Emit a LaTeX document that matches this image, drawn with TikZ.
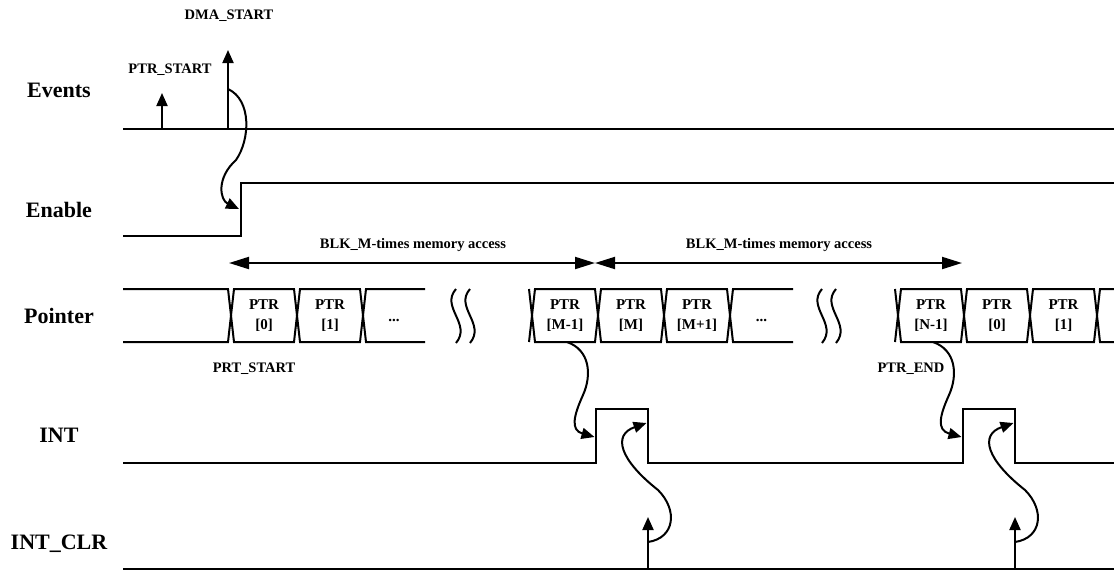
\documentclass[tikz,border=0pt]{standalone}
\usepackage{fontspec}
\setmainfont{Liberation Serif}
\usetikzlibrary{arrows.meta}
\tikzstyle{wire}=[line width=2pt]
\tikzstyle{signame}=[font=\fontsize{22}{26}\selectfont\bfseries,text depth=0pt]
\tikzstyle{evtag}=[font=\fontsize{14.5}{17}\selectfont\bfseries,text depth=0pt]
\tikzstyle{ptrtext}=[align=center,font=\fontsize{15}{20}\selectfont\bfseries,inner sep=0pt]
\tikzstyle{evpath}=[wire,-{Triangle[length=13pt,width=11pt]}]
\tikzstyle{spanpath}=[wire,{Triangle[length=20pt,width=12pt]}-{Triangle[length=20pt,width=12pt]}]
% bus cell between two transitions
\newcommand{\ptrcell}[4]{%
  \draw[wire] (#1,315.5) -- (#1+3,289) -- (#2-3,289) -- (#2,315.5) -- (#2-3,342) -- (#1+3,342) -- cycle;
  \node[ptrtext] (#3) at ({(#1+#2)/2},316) {#4};}
% bus cell left open on the right
\newcommand{\ptropen}[3]{%
  \draw[wire] (#2,289) -- (#1+3,289) -- (#1,315.5) -- (#1+3,342) -- (#2,342);
  \node[ptrtext] (#3) at ({(#1+#2)/2},320) {...};}
% break in the time axis
\newcommand{\timegap}[1]{%
  \draw[wire] (#1,289) .. controls (#1-16,307) and (#1+16,324) .. (#1,343);}
\begin{document}
\begin{tikzpicture}[x=1pt,y=-1pt]
	\useasboundingbox (0,0) rectangle (1114,571);

	% signal names
	\node[signame] (lev) at (59,90) {Events};
	\node[signame] (len) at (59,210) {Enable};
	\node[signame] (lptr) at (59,316) {Pointer};
	\node[signame] (lint) at (59,435) {INT};
	\node[signame] (lclr) at (59,542) {INT\_CLR};

	% Events
	\draw[wire] (123,129) -- (1114,129);
	\coordinate (ptrbase) at (162,129);
	\coordinate (ptrtip) at (162,93);
	\coordinate (dmabase) at (228,129);
	\coordinate (dmatip) at (228,50);
	\coordinate (dmamid) at (228,89);
	\draw[evpath] (ptrbase) -- (ptrtip);
	\draw[evpath] (dmabase) -- (dmatip);
	\node[evtag] (ptrstart) at (170,69) {PTR\_START};
	\node[evtag] (dmastart) at (229,15) {DMA\_START};

	% Enable
	\draw[wire] (123,236) -- (241,236) -- (241,183) -- (1114,183);
	\coordinate (enrise) at (239,209);

	% block spans
	\coordinate (blka) at (229,263);
	\coordinate (blkb) at (595,263);
	\coordinate (blkc) at (962,263);
	\draw[spanpath] (blka) -- (blkb);
	\draw[spanpath] (blkb) -- (blkc);
	\node[evtag] (blkone) at (413,243) {BLK\_M-times memory access};
	\node[evtag] (blktwo) at (779,243) {BLK\_M-times memory access};

	% Pointer
	%% first run
	\draw[wire] (123,289) -- (228,289) -- (231,315.5) -- (228,342) -- (123,342);
	\ptrcell{231}{297}{pzero}{PTR\\{[0]}}
	\ptrcell{297}{363}{pone}{PTR\\{[1]}}
	\ptropen{363}{425}{pdotsa}
	\timegap{456}
	\timegap{470}
	%% second run
	\draw[wire] (529,289) -- (532,315.5) -- (529,342);
	\ptrcell{532}{598}{pmlast}{PTR\\{[M-1]}}
	\ptrcell{598}{664}{pm}{PTR\\{[M]}}
	\ptrcell{664}{730}{pmnext}{PTR\\{[M+1]}}
	\ptropen{730}{793}{pdotsb}
	\timegap{822}
	\timegap{836}
	%% third run
	\draw[wire] (895,289) -- (898,315.5) -- (895,342);
	\ptrcell{898}{964}{pnlast}{PTR\\{[N-1]}}
	\ptrcell{964}{1030}{pwrapzero}{PTR\\{[0]}}
	\ptrcell{1030}{1097}{pwrapone}{PTR\\{[1]}}
	\draw[wire] (1114,289) -- (1100,289) -- (1097,315.5) -- (1100,342) -- (1114,342);
	\node[evtag] (prtstart) at (254,368) {PRT\_START};
	\node[evtag] (ptrend) at (911,368) {PTR\_END};
	\coordinate (mlastout) at (567,342);
	\coordinate (nlastout) at (933,342);

	% INT
	\draw[wire] (123,463) -- (596,463) -- (596,409) -- (648,409) -- (648,463)
		-- (963,463) -- (963,409) -- (1015,409) -- (1015,463) -- (1114,463);
	\coordinate (intriseone) at (594.5,437);
	\coordinate (intfallone) at (646.5,423);
	\coordinate (intrisetwo) at (961.5,437);
	\coordinate (intfalltwo) at (1013.5,423);

	% INT_CLR
	\draw[wire] (123,569) -- (1114,569);
	\coordinate (clrbaseone) at (648,569);
	\coordinate (clrtipone) at (648,517);
	\coordinate (clrmidone) at (648,542);
	\coordinate (clrbasetwo) at (1015,569);
	\coordinate (clrtiptwo) at (1015,517);
	\coordinate (clrmidtwo) at (1015,542);
	\draw[evpath] (clrbaseone) -- (clrtipone);
	\draw[evpath] (clrbasetwo) -- (clrtiptwo);

	% Connections
	\draw[evpath] (dmamid) .. controls (252,100) and (250,140) .. (236,160)
		.. controls (216,178) and (220,200) .. (enrise);
	\draw[evpath] (mlastout) .. controls (590,350) and (592,375) .. (583,395)
		.. controls (574,415) and (570,430) .. (intriseone);
	\draw[evpath] (nlastout) .. controls (956,350) and (958,375) .. (949,395)
		.. controls (940,415) and (936,430) .. (intrisetwo);
	\draw[evpath] (clrmidone) .. controls (675,538) and (678,510) .. (658,490)
		.. controls (620,460) and (612,435) .. (intfallone);
	\draw[evpath] (clrmidtwo) .. controls (1042,538) and (1045,510) .. (1025,490)
		.. controls (987,460) and (979,435) .. (intfalltwo);
\end{tikzpicture}
\end{document}
